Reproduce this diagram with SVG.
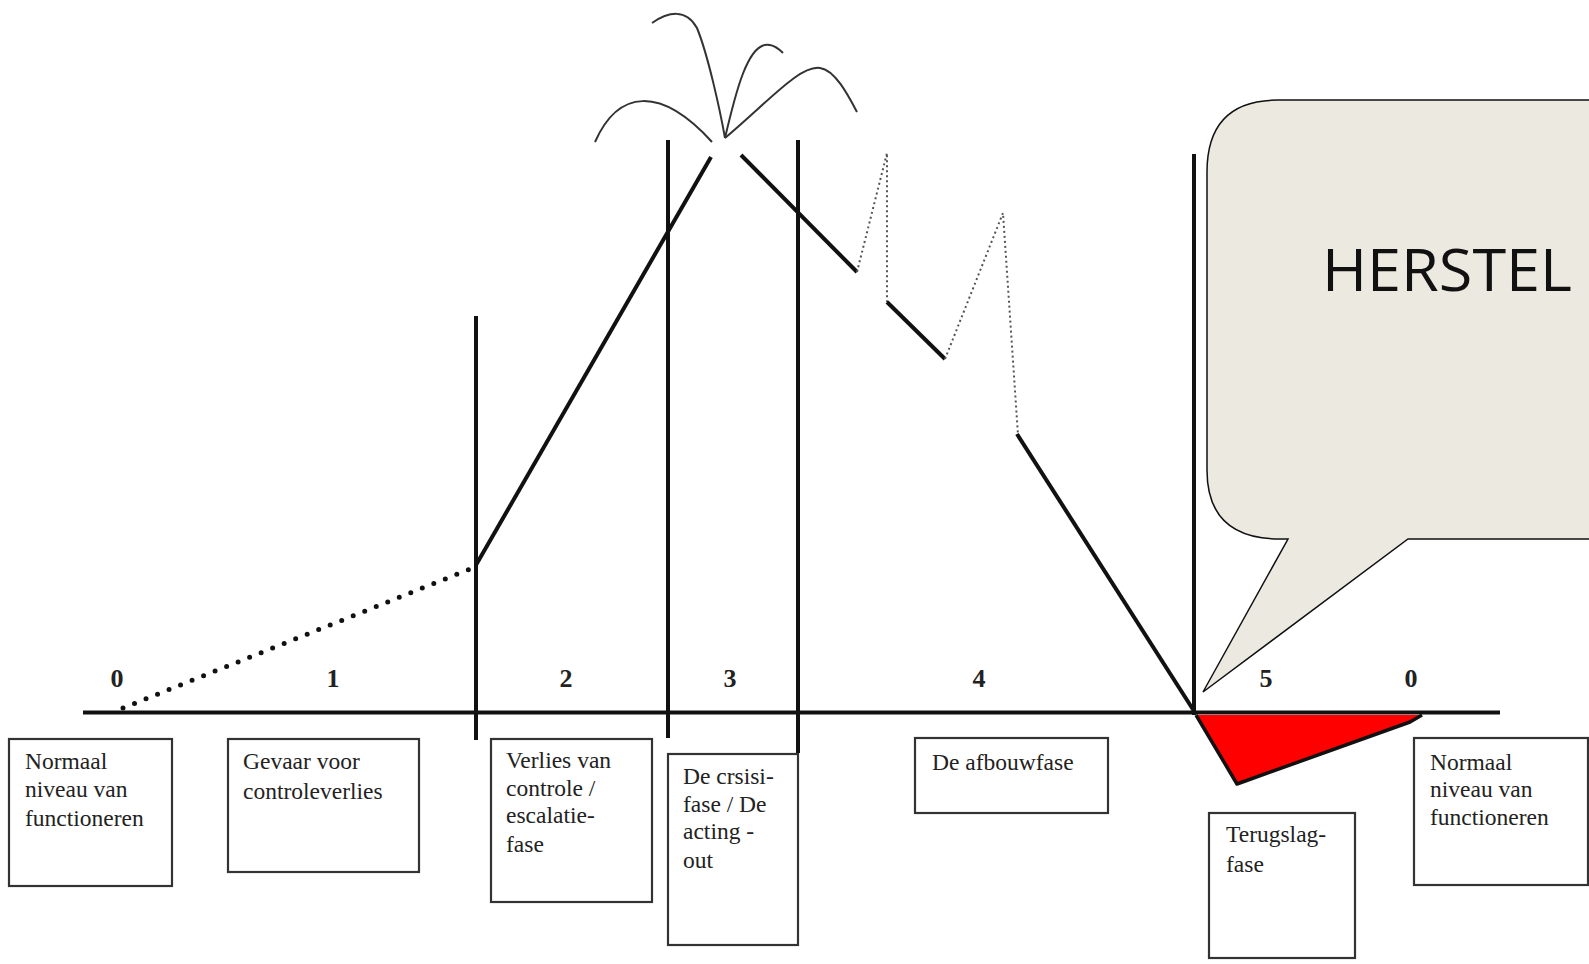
<svg xmlns="http://www.w3.org/2000/svg" width="1589" height="964" viewBox="0 0 1589 964">
<style>
.box{fill:#fff;stroke:#333;stroke-width:2.2}
.t{font-family:"Liberation Serif","Times New Roman",serif;font-size:23.5px;fill:#222}
.num{font-family:"Liberation Serif","Times New Roman",serif;font-size:26px;font-weight:bold;fill:#222;text-anchor:middle}
.solid{stroke:#111;stroke-width:4;fill:none;stroke-linecap:butt}
.fine{stroke:#555;stroke-width:2;fill:none;stroke-dasharray:2 3}
.splash{stroke:#333;stroke-width:2;fill:none}
</style>
<rect width="1589" height="964" fill="#fff"/>
<g id="connectors">
  <line class="solid" x1="83" y1="712.5" x2="1500" y2="712.5"/>
  <line class="solid" x1="476" y1="316" x2="476" y2="740"/>
  <line class="solid" x1="668" y1="140" x2="668" y2="738"/>
  <line class="solid" x1="798" y1="140" x2="798" y2="753"/>
  <line class="solid" x1="1194" y1="154" x2="1194" y2="715"/>
  <line x1="123" y1="708" x2="475" y2="567" stroke="#111" stroke-width="5" stroke-linecap="round" stroke-dasharray="0 12.4"/>
  <line class="solid" x1="476" y1="565" x2="711" y2="157"/>
  <line class="solid" x1="741" y1="155" x2="857" y2="272"/>
  <polyline class="fine" points="857,272 887,153 887,302"/>
  <line class="solid" x1="887" y1="302" x2="945" y2="359"/>
  <polyline class="fine" points="945,359 1003,213 1018,435"/>
  <line class="solid" x1="1017" y1="434" x2="1194" y2="711"/>
  <path class="splash" d="M595,142 C618,90 660,85 712,142"/>
  <path class="splash" d="M652,23 C668,12 686,8 697,28 C708,55 720,110 725,138"/>
  <path class="splash" d="M725,138 C735,95 748,40 770,45 C776,46 780,50 783,53"/>
  <path class="splash" d="M725,138 C770,100 800,65 820,68 C835,70 848,95 857,112"/>
  <polygon points="1196,715 1422,715 1410,722 1237,784" fill="#f00" stroke="none"/>
  <polyline points="1196,715 1237,784 1410,722 1422,715" fill="none" stroke="#111" stroke-width="3.5" stroke-linejoin="round"/>
</g>
<g id="phase-numbers">
  <text class="num" x="117" y="687">0</text>
  <text class="num" x="333" y="687">1</text>
  <text class="num" x="566" y="687">2</text>
  <text class="num" x="730" y="687">3</text>
  <text class="num" x="979" y="687">4</text>
  <text class="num" x="1266" y="687">5</text>
  <text class="num" x="1411" y="687">0</text>
</g>
<g id="node-normaal-left">
  <rect class="box" x="9" y="739" width="163" height="147"/>
  <text class="t" x="25" y="769">Normaal</text>
  <text class="t" x="25" y="797">niveau van</text>
  <text class="t" x="25" y="826">functioneren</text>
</g>
<g id="node-gevaar">
  <rect class="box" x="228" y="739" width="191" height="133"/>
  <text class="t" x="243" y="769">Gevaar voor</text>
  <text class="t" x="243" y="799">controleverlies</text>
</g>
<g id="node-verlies">
  <rect class="box" x="491" y="739" width="161" height="163"/>
  <text class="t" x="506" y="768">Verlies van</text>
  <text class="t" x="506" y="796">controle /</text>
  <text class="t" x="506" y="823">escalatie-</text>
  <text class="t" x="506" y="852">fase</text>
</g>
<g id="node-crisis">
  <rect class="box" x="668" y="754" width="130" height="191"/>
  <text class="t" x="683" y="784">De crsisi-</text>
  <text class="t" x="683" y="812">fase / De</text>
  <text class="t" x="683" y="839">acting -</text>
  <text class="t" x="683" y="868">out</text>
</g>
<g id="node-afbouw">
  <rect class="box" x="915" y="738" width="193" height="75"/>
  <text class="t" x="932" y="770">De afbouwfase</text>
</g>
<g id="node-terugslag">
  <rect class="box" x="1209" y="813" width="146" height="145"/>
  <text class="t" x="1226" y="842">Terugslag-</text>
  <text class="t" x="1226" y="872">fase</text>
</g>
<g id="node-normaal-right">
  <rect class="box" x="1414" y="738" width="174" height="147"/>
  <text class="t" x="1430" y="770">Normaal</text>
  <text class="t" x="1430" y="797">niveau van</text>
  <text class="t" x="1430" y="825">functioneren</text>
</g>
<g id="node-herstel">
  <path d="M1600,100 L1278,100 Q1207,100 1207,172 L1207,470 Q1207,539 1280,539 L1288,539 L1203,692 L1408,539 L1600,539" fill="#ece9e0" stroke="#111" stroke-width="1.5"/>
  <text x="1322" y="291" font-family="'Open Sans','Noto Sans',sans-serif" font-size="58" fill="#111" textLength="250" lengthAdjust="spacingAndGlyphs">HERSTEL</text>
</g>
</svg>
